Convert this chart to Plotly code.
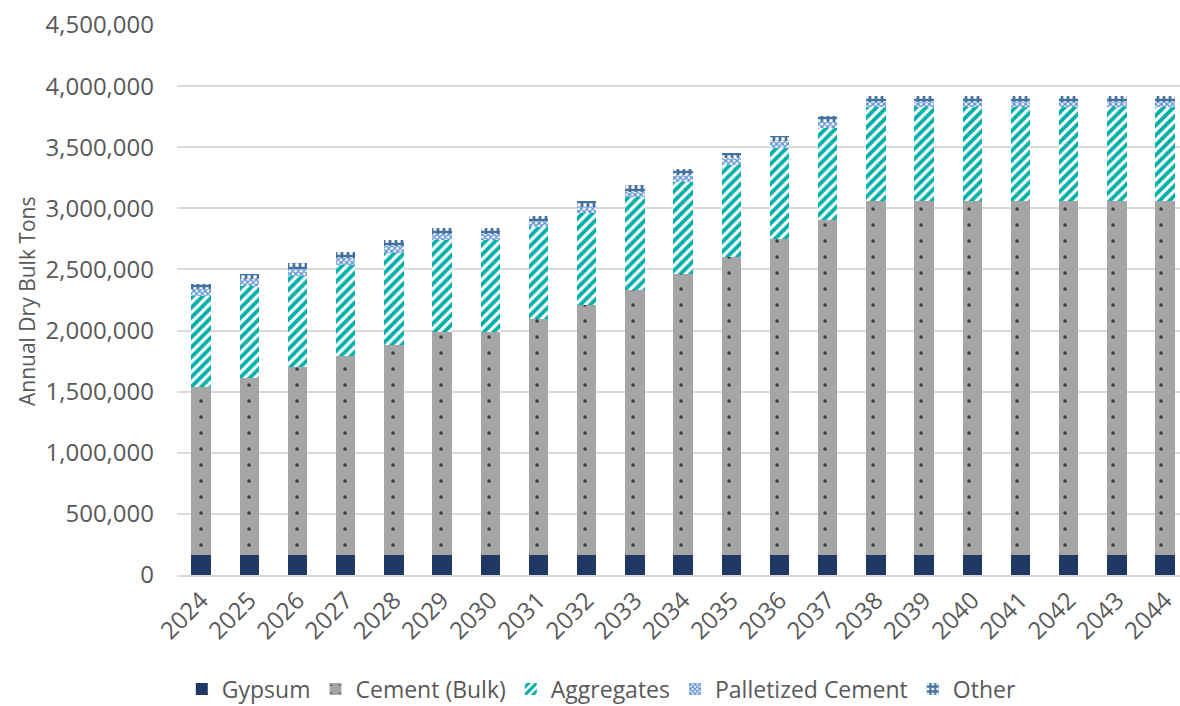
import plotly.graph_objects as go

years = [str(y) for y in range(2024, 2045)]

gypsum = [166000] * 21
cement_bulk = [1370000, 1447000, 1537000, 1623000, 1716000, 1820000, 1820000, 1931000,
               2045000, 2168000, 2299000, 2434000, 2581000, 2737000,
               2897000, 2897000, 2897000, 2897000, 2897000, 2897000, 2897000]
aggregates = [745000, 754000, 746000, 749000, 750000, 755000, 755000, 754000,
              750000, 757000, 754000, 755000, 750000, 752000,
              764000, 764000, 764000, 764000, 764000, 764000, 764000]
palletized = [60000, 54000, 54000, 55000, 60000, 49000, 49000, 47000,
              54000, 46000, 55000, 55000, 55000, 54000,
              44000, 44000, 44000, 44000, 44000, 44000, 44000]
other = [44000, 44000, 49000, 52000, 49000, 49000, 49000, 43000,
         49000, 52000, 46000, 46000, 43000, 47000,
         49000, 49000, 49000, 49000, 49000, 49000, 49000]

y_ticks = [0, 500000, 1000000, 1500000, 2000000, 2500000, 3000000, 3500000, 4000000, 4500000]

FONT = "Open Sans"
TXT = "#595959"

fig = go.Figure()
fig.add_bar(x=years, y=gypsum, name="Gypsum",
            marker=dict(color="#1F3864", line=dict(width=0)))
fig.add_bar(x=years, y=cement_bulk, name="Cement (Bulk)",
            marker=dict(color="#A5A5A5", line=dict(width=0),
                        pattern=dict(shape=".", fgcolor="#3A3A3A", bgcolor="#A5A5A5",
                                     size=16, solidity=0.035, fillmode="replace")))
fig.add_bar(x=years, y=aggregates, name="Aggregates",
            marker=dict(color="#00B0A8", line=dict(width=0),
                        pattern=dict(shape="/", fgcolor="#00B0A8", bgcolor="white",
                                     size=7, solidity=0.55, fillmode="replace")))
fig.add_bar(x=years, y=palletized, name="Palletized Cement",
            marker=dict(color="#5B8FD6", line=dict(width=0),
                        pattern=dict(shape="x", fgcolor="#5B8FD6", bgcolor="white",
                                     size=4, solidity=0.6, fillmode="replace")))
fig.add_bar(x=years, y=other, name="Other",
            marker=dict(color="#44729E", line=dict(width=0),
                        pattern=dict(shape="+", fgcolor="#44729E", bgcolor="white",
                                     size=6, solidity=0.7, fillmode="replace")))

fig.update_layout(
    barmode="stack",
    bargap=0.6,
    width=1180, height=706,
    margin=dict(l=177, r=0, t=25, b=131),
    paper_bgcolor="white", plot_bgcolor="white",
    font=dict(family=FONT, size=23, color=TXT),
    showlegend=True,
    legend=dict(orientation="h", xref="container", yref="container",
                x=0.51, xanchor="center", y=0.024, yanchor="middle",
                font=dict(family=FONT, size=23, color=TXT),
                itemwidth=30, traceorder="normal"),
    xaxis=dict(type="category", range=[-0.5, 20.31], tickangle=-45,
               showgrid=False, showline=True, linecolor="#D9D9D9", linewidth=1.5,
               ticks="", tickfont=dict(family=FONT, size=24, color=TXT)),
    yaxis=dict(range=[0, 4500000], tickvals=y_ticks,
               ticktext=[f"{v:,}" for v in y_ticks],
               showgrid=True, gridcolor="#D9D9D9", gridwidth=1.5,
               zeroline=False, ticks="", ticklabelstandoff=22,
               tickfont=dict(family=FONT, size=24, color=TXT)),
    annotations=[dict(text="Annual Dry Bulk Tons", xref="paper", yref="paper",
                      x=-(177 - 27) / 1003, y=(575 - 302) / 550, textangle=-90,
                      showarrow=False, xanchor="center", yanchor="middle",
                      font=dict(family=FONT, size=21, color=TXT))],
)

fig.write_html("out.html")
